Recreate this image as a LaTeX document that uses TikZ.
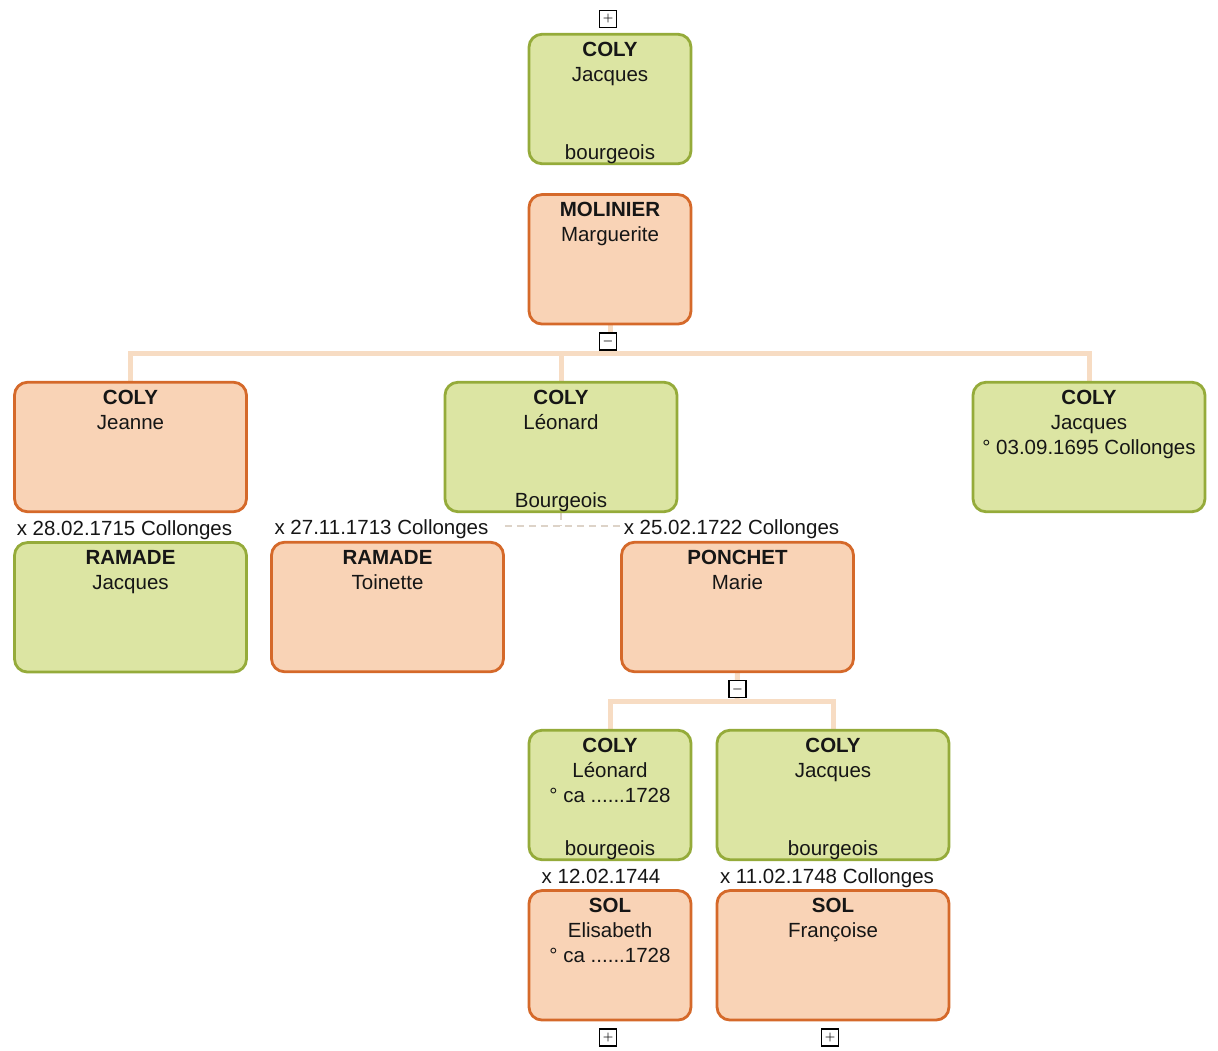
\documentclass[tikz,border=0pt]{standalone}
\usepackage{fontspec}
\setmainfont{Liberation Sans}
\usetikzlibrary{positioning,backgrounds}
\definecolor{homfill}{HTML}{DCE5A3}
\definecolor{homdraw}{HTML}{95AB3A}
\definecolor{femfill}{HTML}{F9D3B6}
\definecolor{femdraw}{HTML}{D5692A}
\definecolor{liencol}{HTML}{F7DCC3}
\definecolor{noccol}{HTML}{DDD3C8}
\definecolor{texte}{HTML}{161616}
\newcommand{\fiche}[4][232pt]{\parbox[t][113.5pt][t]{#1}{\centering\textbf{#2}\\#3\par\vfill\leavevmode\smash{\raisebox{-4pt}{#4}}}}
\tikzset{
	fiche/.style={rounded corners=13pt, line width=2.8pt, inner xsep=0pt, inner ysep=8pt, text=texte},
	homme/.style={fiche, draw=homdraw, fill=homfill},
	femme/.style={fiche, draw=femdraw, fill=femfill},
	lien/.style={draw=liencol, line width=5pt},
	noce/.style={draw=noccol, line width=2.5pt, dash pattern=on 7pt off 5pt},
	mariage/.style={anchor=base, yshift=6pt, xshift=-6pt, text=texte},
	bouton/.style={draw=black, fill=white, line width=1.2pt, minimum size=17pt, inner sep=0pt, font=\fontsize{13}{13}\selectfont\boldmath}
}

\begin{document}
\begin{tikzpicture}[x=1pt, y=-1pt, font=\fontsize{20.5}{25}\selectfont]
	\useasboundingbox (0,0) rectangle (1218,1050);
	
	\node[homme] (jacq1) at (610,99) {\fiche[162pt]{COLY}{Jacques}{bourgeois}};
	\node[femme, below=28pt of jacq1] (mol) {\fiche[162pt]{MOLINIER}{Marguerite}{}};
	\node[femme] (jeanne) at (130.5,447) {\fiche{COLY}{Jeanne}{}};
	\node[homme] (leo) at (561,447) {\fiche{COLY}{Léonard}{Bourgeois}};
	\node[homme] (jacq3) at (1089,447) {\fiche{COLY}{Jacques\\° 03.09.1695 Collonges}{}};
	\node[homme, below=28pt of jeanne] (ramj) {\fiche{RAMADE}{Jacques}{}};
	\node[femme] (toin) at (387.5,607) {\fiche{RAMADE}{Toinette}{}};
	\node[femme] (ponch) at (737.5,607) {\fiche{PONCHET}{Marie}{}};
	\node[homme] (leo2) at (610,795) {\fiche[162pt]{COLY}{Léonard\\° ca ......1728}{bourgeois}};
	\node[homme] (jacq4) at (833,795) {\fiche{COLY}{Jacques}{bourgeois}};
	\node[femme, below=28pt of leo2] (elis) {\fiche[162pt]{SOL}{Elisabeth\\° ca ......1728}{}};
	\node[femme, below=28pt of jacq4] (fran) {\fiche{SOL}{Françoise}{}};
	
	\node[mariage] (x1) at (ramj.north) {x 28.02.1715 Collonges};
	\node[mariage] (x2) at (toin.north) {x 27.11.1713 Collonges};
	\node[mariage] (x3) at (ponch.north) {x 25.02.1722 Collonges};
	\node[mariage, xshift=-3pt] (x4) at (elis.north) {x 12.02.1744};
	\node[mariage] (x5) at (fran.north) {x 11.02.1748 Collonges};
	
	\node[bouton, above=5pt of jacq1, xshift=-2pt] (b1) {$+$};
	\node[bouton, below=7pt of mol, xshift=-2pt] (b2) {$-$};
	\node[bouton, below=7pt of ponch] (b3) {$-$};
	\node[bouton, below=7pt of elis, xshift=-2pt] (b4) {$+$};
	\node[bouton, below=7pt of fran, xshift=-3pt] (b5) {$+$};
	
	\coordinate (barre1) at (610,353);
	\coordinate (barre2) at (737,701);
	\coordinate (wed) at (561,526);
	
	\begin{scope}[on background layer]
		\fill[white] (0,0) rectangle (1218,1050);
		\draw[lien] (mol.south) -- (barre1);
		\draw[lien] (jeanne.north) -- (jeanne.north |- barre1) -- (jacq3.north |- barre1) -- (jacq3.north);
		\draw[lien] (leo.north) -- (leo.north |- barre1);
		\draw[lien] (ponch.south) -- (barre2);
		\draw[lien] (leo2.north) -- (leo2.north |- barre2) -- (jacq4.north |- barre2) -- (jacq4.north);
		\draw[noce] (leo.south) -- (wed);
		\draw[noce] (wed -| toin.east) -- (wed -| ponch.west);
	\end{scope}
\end{tikzpicture}
\end{document}
